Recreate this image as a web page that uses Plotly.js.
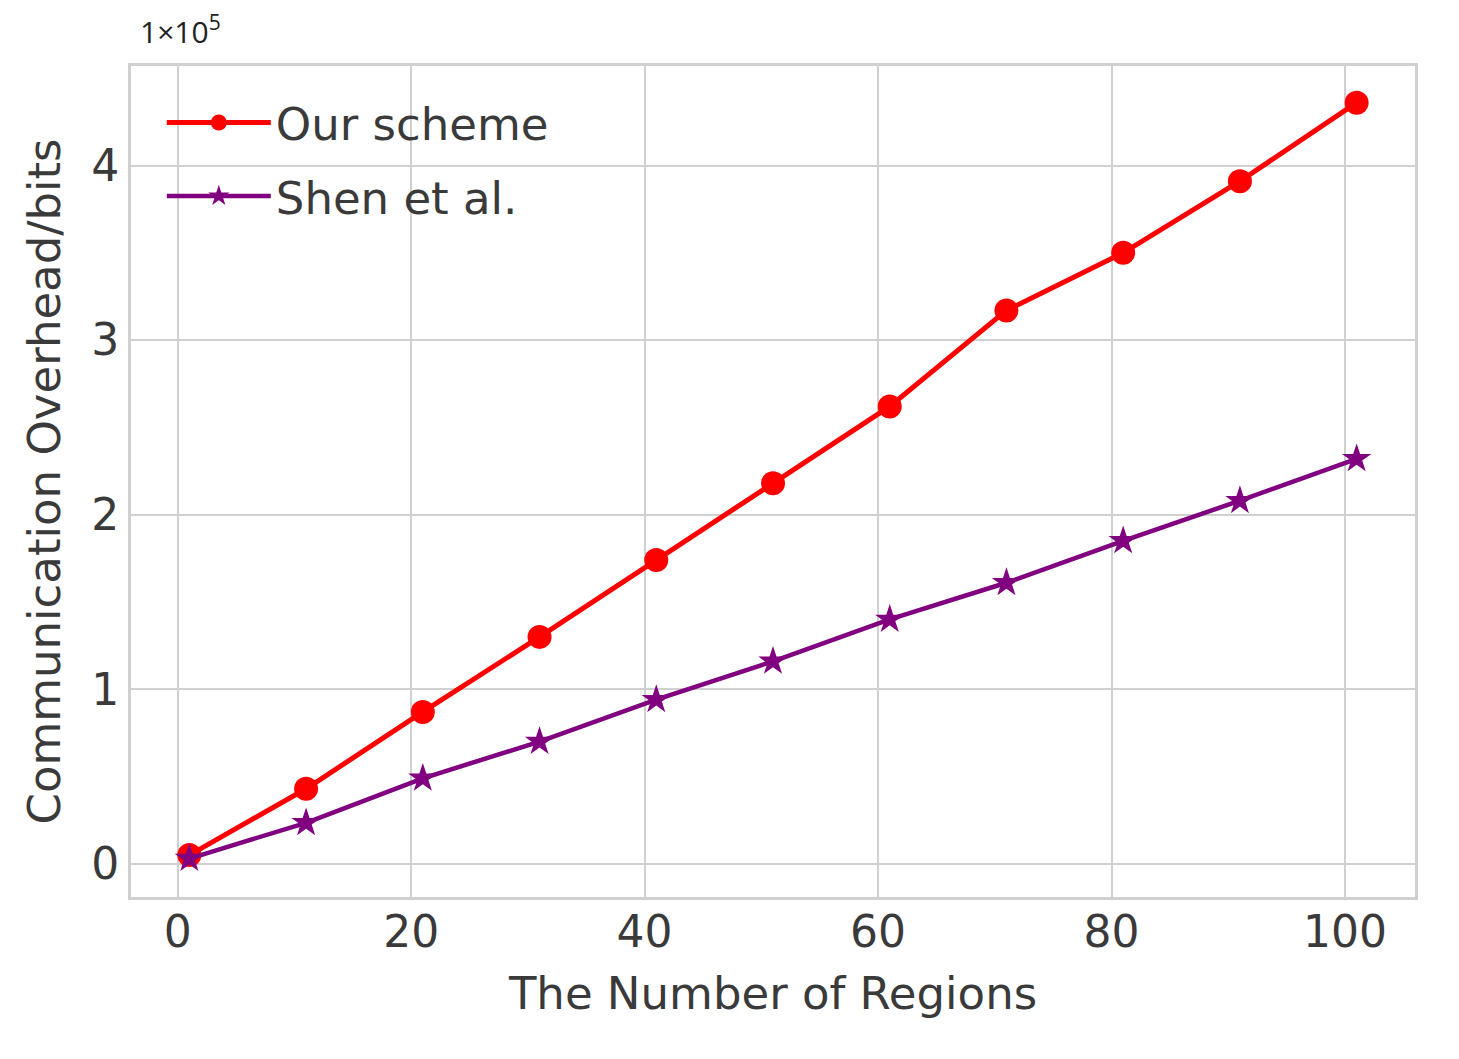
<!DOCTYPE html>
<html>
<head>
<meta charset="utf-8">
<script src="https://cdn.plot.ly/plotly-3.0.1.min.js"></script>
<style>html,body{margin:0;padding:0;background:#fff;}#chart{width:1459px;height:1059px;}</style>
</head>
<body>
<div id="chart"></div>
<script>
// Data (bits)
const regions = [1, 11, 21, 31, 41, 51, 61, 71, 81, 91, 101];
const ourScheme = [5000, 43000, 87000, 130000, 174000, 218000, 262000, 317000, 350000, 391000, 436000];
const shenEtAl = [3000, 23500, 49000, 70000, 94000, 116000, 140000, 161000, 185000, 208000, 232000];
const seriesNames = ["Our scheme", "Shen et al."];
const xTickVals = [0, 20, 40, 60, 80, 100];
const yTickVals = [0, 100000, 200000, 300000, 400000];
const yTickText = ["0", "1", "2", "3", "4"];
const xTitle = "The Number of Regions";
const yTitle = "Communication Overhead/bits";
const scaleLabel = "1×10<sup>5</sup>";

const textColor = "#3a3a3a";
const gridColor = "#d0d0d0";
const fontFam = "DejaVu Sans, sans-serif";

const traces = [
  {
    x: regions, y: ourScheme, name: seriesNames[0], type: "scatter", mode: "lines+markers",
    line: {color: "#ff0000", width: 5},
    marker: {symbol: "circle", size: 24, color: "#ff0000"},
    legendgroup: "a"
  },
  {
    x: regions, y: shenEtAl, name: seriesNames[1], type: "scatter", mode: "lines+markers",
    line: {color: "#800080", width: 4.5},
    marker: {symbol: "star", size: 22, color: "#800080"},
    legendgroup: "b"
  }
];

const layout = {
  width: 1459, height: 1059,
  paper_bgcolor: "#ffffff", plot_bgcolor: "#ffffff",
  margin: {l: 131, r: 44, t: 66, b: 162},
  font: {family: fontFam, color: textColor, size: 44},
  showlegend: true,
  legend: {
    x: 0.024, y: 0.975, xanchor: "left", yanchor: "top",
    bgcolor: "rgba(0,0,0,0)", borderwidth: 0, itemwidth: 104,
    font: {family: fontFam, size: 45, color: textColor},
    traceorder: "grouped", tracegroupgap: 12
  },
  xaxis: {
    range: [-4, 106], tickvals: xTickVals, ticks: "", ticklabelstandoff: -6,
    showgrid: true, gridcolor: gridColor, gridwidth: 2, zeroline: false,
    showline: true, mirror: true, linecolor: gridColor, linewidth: 3,
    tickfont: {family: fontFam, size: 44, color: textColor},
    title: {text: xTitle, font: {family: fontFam, size: 45, color: textColor}, standoff: 22}
  },
  yaxis: {
    range: [-19000, 457000], tickvals: yTickVals, ticktext: yTickText, ticks: "", ticklabelstandoff: 0,
    showgrid: true, gridcolor: gridColor, gridwidth: 2, zeroline: false,
    showline: true, mirror: true, linecolor: gridColor, linewidth: 3,
    tickfont: {family: fontFam, size: 44, color: textColor},
    title: {text: yTitle, font: {family: fontFam, size: 45, color: textColor}, standoff: 17}
  },
  annotations: [
    {text: scaleLabel, xref: "paper", yref: "paper", x: 0, y: 1.0, xanchor: "left", yanchor: "bottom",
     xshift: 7, yshift: 12, showarrow: false, font: {family: "Open Sans, sans-serif", size: 30, color: "#222"}}
  ]
};

Plotly.newPlot("chart", traces, layout, {displayModeBar: false, staticPlot: true});
</script>
</body>
</html>
